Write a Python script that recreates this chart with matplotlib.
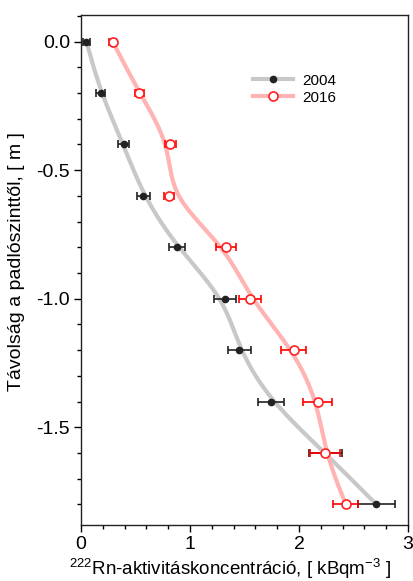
import numpy as np
import matplotlib
matplotlib.use('Agg')
import matplotlib.pyplot as plt
from matplotlib.ticker import MultipleLocator

plt.rcParams['font.family'] = ['Liberation Sans', 'DejaVu Sans']
plt.rcParams['mathtext.fontset'] = 'custom'
plt.rcParams['mathtext.rm'] = 'Liberation Sans'
plt.rcParams['mathtext.it'] = 'Liberation Sans'
plt.rcParams['mathtext.default'] = 'regular'

depth = [0.0, -0.2, -0.4, -0.6, -0.8, -1.0, -1.2, -1.4, -1.6, -1.8]
rn2004 = [0.05, 0.18, 0.39, 0.57, 0.88, 1.32, 1.45, 1.74, 2.24, 2.71]
err2004 = [0.035, 0.04, 0.05, 0.06, 0.075, 0.10, 0.105, 0.12, 0.15, 0.17]
rn2016 = [0.29, 0.535, 0.82, 0.81, 1.33, 1.55, 1.95, 2.17, 2.24, 2.43]
err2016 = [0.035, 0.04, 0.05, 0.045, 0.09, 0.10, 0.115, 0.13, 0.135, 0.115]


def bspline(xs, ys, n=200):
    # clamped uniform cubic B-spline using the points as control points
    px = np.r_[[xs[0]] * 2, xs, [xs[-1]] * 2]
    py = np.r_[[ys[0]] * 2, ys, [ys[-1]] * 2]
    outx, outy = [], []
    for i in range(len(px) - 3):
        t = np.linspace(0, 1, n // len(px) + 2)
        b0 = (1 - t) ** 3 / 6
        b1 = (3 * t ** 3 - 6 * t ** 2 + 4) / 6
        b2 = (-3 * t ** 3 + 3 * t ** 2 + 3 * t + 1) / 6
        b3 = t ** 3 / 6
        outx.append(b0 * px[i] + b1 * px[i + 1] + b2 * px[i + 2] + b3 * px[i + 3])
        outy.append(b0 * py[i] + b1 * py[i + 1] + b2 * py[i + 2] + b3 * py[i + 3])
    return np.concatenate(outx), np.concatenate(outy)


fig = plt.figure(figsize=(4.14, 5.81), dpi=100)
ax = fig.add_axes([0.1957, 0.0964, 0.7898, 0.8776])

sx, sy = bspline(rn2004, depth)
ax.plot(sx, sy, color='#c8c8c8', lw=3, solid_capstyle='round', zorder=1)
sx, sy = bspline(rn2016, depth)
ax.plot(sx, sy, color='#ffb3b3', lw=3, solid_capstyle='round', zorder=1)

ax.errorbar(rn2004, depth, xerr=err2004, fmt='none', ecolor='#222222',
            elinewidth=1.2, capsize=3, capthick=1.2, zorder=2)
ax.errorbar(rn2016, depth, xerr=err2016, fmt='none', ecolor='#ff0000',
            elinewidth=1.2, capsize=3, capthick=1.2, zorder=3)
ax.plot(rn2004, depth, 'o', color='#222222', ms=4.5, zorder=4)
ax.plot(rn2016, depth, 'o', mfc='white', mec='#ff2020', mew=1.2, ms=6.5, zorder=5)

# legend handles
h1, = ax.plot([], [], color='#c8c8c8', lw=3, marker='o', mfc='#222222', mec='#222222', ms=4.5)
h2, = ax.plot([], [], color='#ffb3b3', lw=3, marker='o', mfc='white', mec='#ff2020', mew=1.2, ms=6.5)
ax.legend([h1, h2], ['2004', '2016'], loc='upper left', bbox_to_anchor=(0.485, 0.912),
          frameon=False, fontsize=11, handlelength=2.6, handletextpad=0.6, labelspacing=0.2)

ax.set_xlim(0, 3)
ax.set_ylim(-1.88, 0.103)
ax.xaxis.set_major_locator(MultipleLocator(1))
ax.xaxis.set_minor_locator(MultipleLocator(0.2))
ax.yaxis.set_major_locator(MultipleLocator(0.5))
ax.yaxis.set_minor_locator(MultipleLocator(0.1))
ax.yaxis.set_major_formatter(matplotlib.ticker.FormatStrFormatter('%.1f'))
ax.tick_params(which='both', direction='out', top=False, right=False, labelsize=14, pad=3)
ax.tick_params(which='major', length=5, width=1)
ax.tick_params(which='minor', length=3, width=1)
for s in ax.spines.values():
    s.set_linewidth(1)
    s.set_color('#222222')

ax.set_xlabel('$^{222}$Rn-aktivitáskoncentráció, [ kBqm$^{-3}$ ]', fontsize=13.5)
ax.set_ylabel('Távolság a padlószinttől, [ m ]', fontsize=14)
ax.xaxis.set_label_coords(0.456, -0.062)
ax.yaxis.set_label_coords(-0.171, 0.516)

fig.savefig('out.png', dpi=100)
